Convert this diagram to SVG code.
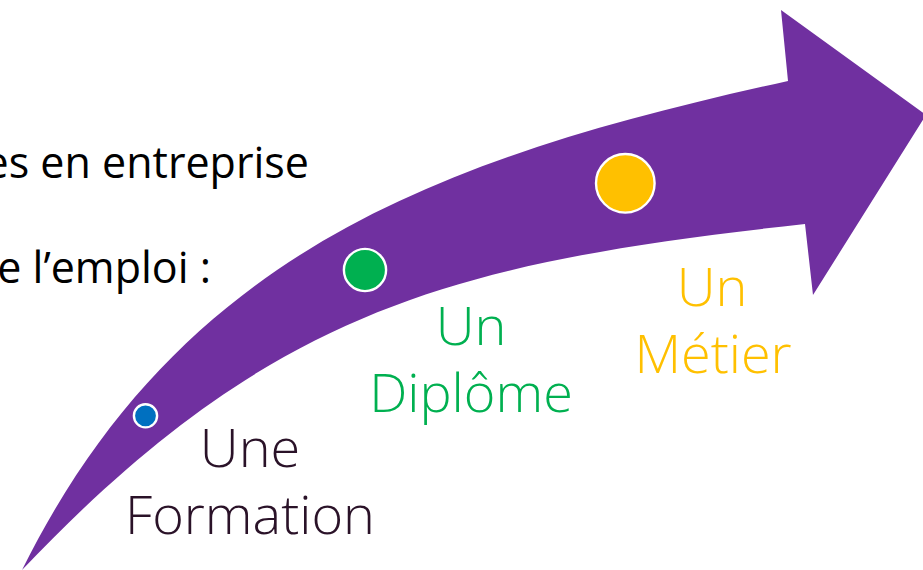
<svg xmlns="http://www.w3.org/2000/svg" width="923" height="570" viewBox="0 0 923 570">
  <style>
    .body { font-family: "Open Sans", "Noto Sans", "Liberation Sans", sans-serif; font-size: 43px; fill: #000000; }
    .lbl { font-family: "Open Sans", "Noto Sans", "Liberation Sans", sans-serif; font-size: 54px; font-weight: 300; text-anchor: middle; }
    .dot { stroke: #FFFFFF; stroke-width: 2.4; }
  </style>
  <rect width="923" height="570" fill="#FFFFFF"/>
  <g id="text-left">
    <text class="body" x="309" y="178" text-anchor="end">es en entreprise</text>
    <text class="body" x="211" y="283" text-anchor="end">e l’emploi :</text>
  </g>
  <g id="connectors">
    <path id="arrow" fill="#7030A0" d="M 22 570 C 180 252 438 158 788 81 L 781 10 L 926 115 L 813 295 L 805 224 C 455 262.5 272 307 22 570 Z"/>
  </g>
  <g id="node-formation">
    <circle class="dot" cx="145.5" cy="415.8" r="11.6" fill="#0070C0"/>
    <text class="lbl" fill="#2A1228"><tspan x="250" y="467">Une</tspan><tspan x="250" y="534">Formation</tspan></text>
  </g>
  <g id="node-diplome">
    <circle class="dot" cx="365" cy="270" r="21.1" fill="#00B050"/>
    <text class="lbl" fill="#00B050"><tspan x="471" y="345">Un</tspan><tspan x="471" y="412">Diplôme</tspan></text>
  </g>
  <g id="node-metier">
    <circle class="dot" cx="625.3" cy="183.3" r="29.3" fill="#FFC000"/>
    <text class="lbl" fill="#FFC000"><tspan x="712" y="306">Un</tspan><tspan x="713" y="373">Métier</tspan></text>
  </g>
</svg>
